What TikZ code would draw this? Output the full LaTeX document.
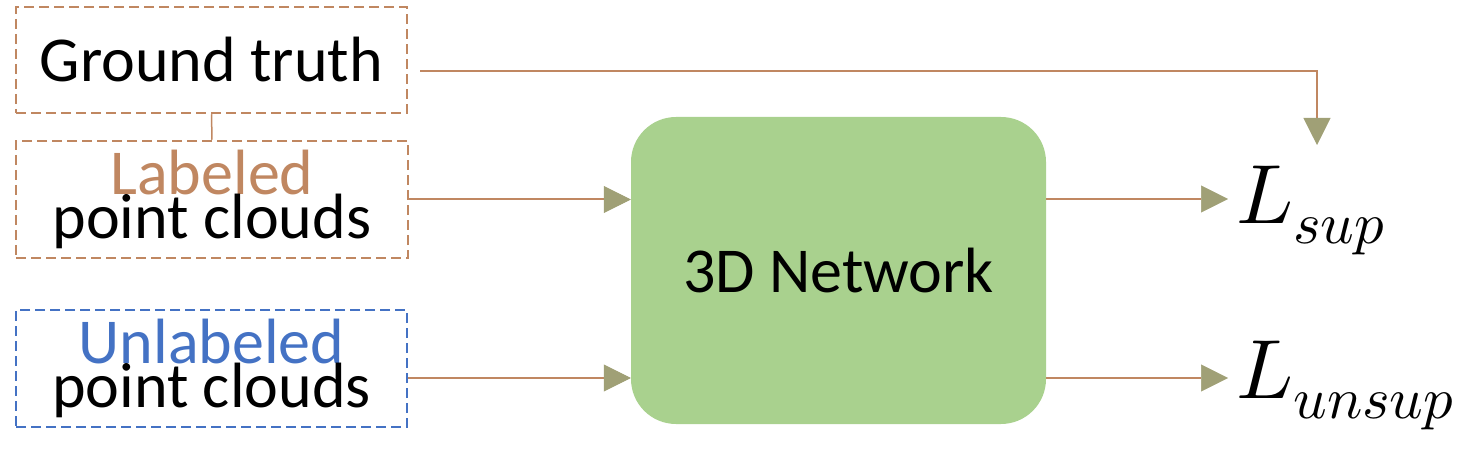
\documentclass[tikz,border=0pt]{standalone}
\usepackage{fontspec}
\usepackage{unicode-math}
\setmainfont{Carlito}
\usetikzlibrary{arrows.meta}
\definecolor{brn}{RGB}{192,135,97}
\definecolor{blu}{RGB}{68,114,196}
\definecolor{grn}{RGB}{169,209,142}
\definecolor{tipc}{RGB}{160,160,118}
\setlength{\lineskiplimit}{-100pt}
\begin{document}
\begin{tikzpicture}[x=1pt,y=-1pt,
  dbox/.style={draw=brn,dash pattern=on 10pt off 5pt,line width=2.5pt,minimum width=391pt,inner sep=0pt,align=center,font=\fontsize{64}{44}\selectfont},
  conn/.style={draw=brn,line width=2pt},
  arr/.style={conn,-{Triangle[length=27pt,width=27pt,fill=tipc,color=tipc,line width=0.5pt]}},
  lossnode/.style={anchor=base west,inner sep=0pt,font=\fontsize{84}{90}\selectfont}
]
\useasboundingbox (0,0) rectangle (1483,465);
\node[dbox,minimum height=106pt] (gt) at (211.5,60) {Ground truth};
\node[dbox,minimum height=117pt,minimum width=392pt] (lab) at (212,199.5) {\textcolor{brn}{Labeled}\\point clouds};
\node[dbox,draw=blu,minimum height=117pt] (unl) at (211.5,368.5) {\textcolor{blu}{Unlabeled}\\point clouds};
\node[fill=grn,rounded corners=45pt,minimum width=415pt,minimum height=307pt,inner sep=0pt,font=\fontsize{64}{70}\selectfont] (net) at (838.5,270.5) {3D Network};
\node[lossnode] (lsup) at (1236,223) {$L_{sup}$};
\node[lossnode] (lunsup) at (1236,398) {$L_{unsup}$};
\coordinate (supin) at (1228,199);
\coordinate (unsupin) at (1228,378);
\coordinate (gtin) at (1317,145);
\draw[conn,line width=1.5pt] (gt.south) -- (lab.north);
\draw[arr] (lab.east) -- (lab.east -| net.west);
\draw[arr] ([yshift=-9.5pt]unl.east) -- ([yshift=-9.5pt]unl.east -| net.west);
\draw[arr] (net.east |- supin) -- (supin);
\draw[arr] (net.east |- unsupin) -- (unsupin);
\draw[arr] ([xshift=12pt,yshift=-11pt]gt.east) -| (gtin);
\end{tikzpicture}
\end{document}
